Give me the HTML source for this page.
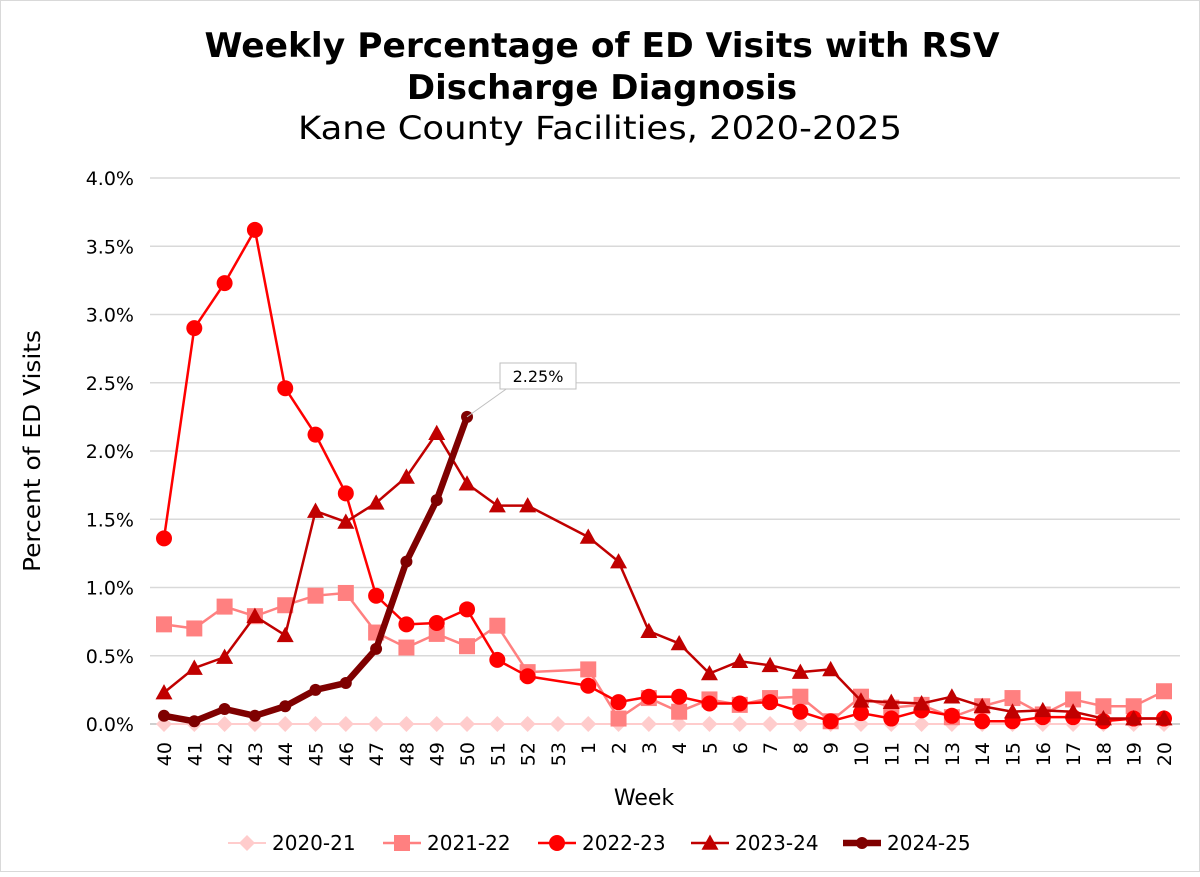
<!DOCTYPE html>
<html><head><meta charset="utf-8"><style>
html,body{margin:0;padding:0;background:#fff;}
body{width:1200px;height:872px;overflow:hidden;font-family:"Liberation Sans","DejaVu Sans",sans-serif;}
</style></head><body>
<svg id="c" width="1200" height="872" xmlns="http://www.w3.org/2000/svg" style="font-family:'DejaVu Sans','Liberation Sans',sans-serif">
<rect x="0.5" y="0.5" width="1199" height="871" fill="#fff" stroke="#d9d9d9"/>
<text x="602" y="57" font-size="34" font-weight="bold" text-anchor="middle" textLength="795" lengthAdjust="spacingAndGlyphs">Weekly Percentage of ED Visits with RSV</text>
<text x="602" y="99" font-size="34" font-weight="bold" text-anchor="middle">Discharge Diagnosis</text>
<text x="600" y="139" font-size="32" text-anchor="middle" textLength="604" lengthAdjust="spacingAndGlyphs">Kane County Facilities, 2020-2025</text>
<text transform="translate(40,451) rotate(-90)" font-size="23" text-anchor="middle" textLength="242" lengthAdjust="spacingAndGlyphs">Percent of ED Visits</text>
<text x="644" y="805" font-size="22" text-anchor="middle">Week</text>
<g id="g"></g>
</svg>
<script>
var NS="http://www.w3.org/2000/svg",g=document.getElementById('g');
function el(t,a,txt){var e=document.createElementNS(NS,t);for(var k in a)e.setAttribute(k,a[k]);if(txt!=null)e.textContent=txt;g.appendChild(e);return e;}
function X(i){return 164+i*1000/33;}
function Y(v){return 724-v*136.5;}
for(var k=0;k<=8;k++){var y=Y(k*0.5);el('line',{x1:150,x2:1180,y1:y,y2:y,stroke:k?'#d9d9d9':'#bfbfbf','stroke-width':1.5});
el('text',{x:134,y:y+7,'font-size':19,'text-anchor':'end'},(k*0.5).toFixed(1)+'%');}
var wk=[];for(var w=40;w<=53;w++)wk.push(w);for(w=1;w<=20;w++)wk.push(w);
wk.forEach(function(w,i){el('text',{transform:'translate('+(X(i)+7)+',742) rotate(-90)','font-size':19,'text-anchor':'end'},w);});
function pts(arr){var p=[];arr.forEach(function(v,i){if(v!==null){var ii=i>=13?i+1:i;p.push([X(ii),Y(v)]);}});return p;}
var s0=[];for(var i=0;i<34;i++)s0.push([X(i),Y(0)]);
var s1=pts([.73,.70,.86,.79,.87,.94,.96,.67,.56,.66,.57,.72,.38,.40,.04,.19,.09,.18,.14,.19,.20,.02,.20,.12,.14,.05,.13,.19,.07,.18,.13,.13,.24]);
var s2=pts([1.36,2.90,3.23,3.62,2.46,2.12,1.69,.94,.73,.74,.84,.47,.35,.28,.16,.20,.20,.15,.15,.16,.09,.02,.08,.04,.10,.06,.02,.02,.05,.05,.02,.04,.04]);
var s3=pts([.23,.41,.49,.79,.65,1.56,1.48,1.62,1.81,2.13,1.76,1.60,1.60,1.37,1.19,.68,.59,.37,.46,.43,.38,.40,.17,.16,.15,.20,.13,.09,.10,.09,.04,.04,.04]);
var s4=[.06,.02,.11,.06,.13,.25,.30,.55,1.19,1.64,2.25].map(function(v,i){return [X(i),Y(v)];});
function line(p,c,w){el('polyline',{points:p.map(function(q){return q.join(',')}).join(' '),fill:'none',stroke:c,'stroke-width':w,'stroke-linejoin':'round'});}
function mark(p,c,t,s){p.forEach(function(q){var x=q[0],y=q[1];
if(t=='d')el('polygon',{points:[x,y-s,x+s,y,x,y+s,x-s,y].join(','),fill:c});
else if(t=='s')el('rect',{x:x-s,y:y-s,width:2*s,height:2*s,fill:c});
else if(t=='c')el('circle',{cx:x,cy:y,r:s,fill:c});
else if(t=='t')el('polygon',{points:[x,y-s,x+s,y+s*0.8,x-s,y+s*0.8].join(','),fill:c});});}
line(s0,'#ffcccc',2);mark(s0,'#ffcccc','d',8);
line(s1,'#ff8080',2.5);mark(s1,'#ff8080','s',8);
line(s2,'#ff0000',2.5);mark(s2,'#ff0000','c',8);
line(s3,'#c00000',2.5);mark(s3,'#c00000','t',8.5);
line(s4,'#7f0000',6.5);mark(s4,'#7f0000','c',6);
el('line',{x1:X(10),y1:Y(2.25),x2:X(11.3),y2:Y(2.25)-28,stroke:'#bfbfbf','stroke-width':1});
el('rect',{x:500,y:363,width:76,height:26,fill:'#fff',stroke:'#bfbfbf'});
el('text',{x:538,y:382,'font-size':16,'text-anchor':'middle'},'2.25%');
var L=[[228,'2020-21','#ffcccc','d',8,2],[383,'2021-22','#ff8080','s',8,2.5],[538,'2022-23','#ff0000','c',8,2.5],[691,'2023-24','#c00000','t',8.5,2.5],[843,'2024-25','#7f0000','c',6,6.5]];
L.forEach(function(l){var x=l[0],y=843;line([[x,y],[x+38,y]],l[2],l[5]);mark([[x+19,y]],l[2],l[3],l[4]);el('text',{x:x+44,y:y+7,'font-size':20},l[1]);});
</script>
</body></html>
